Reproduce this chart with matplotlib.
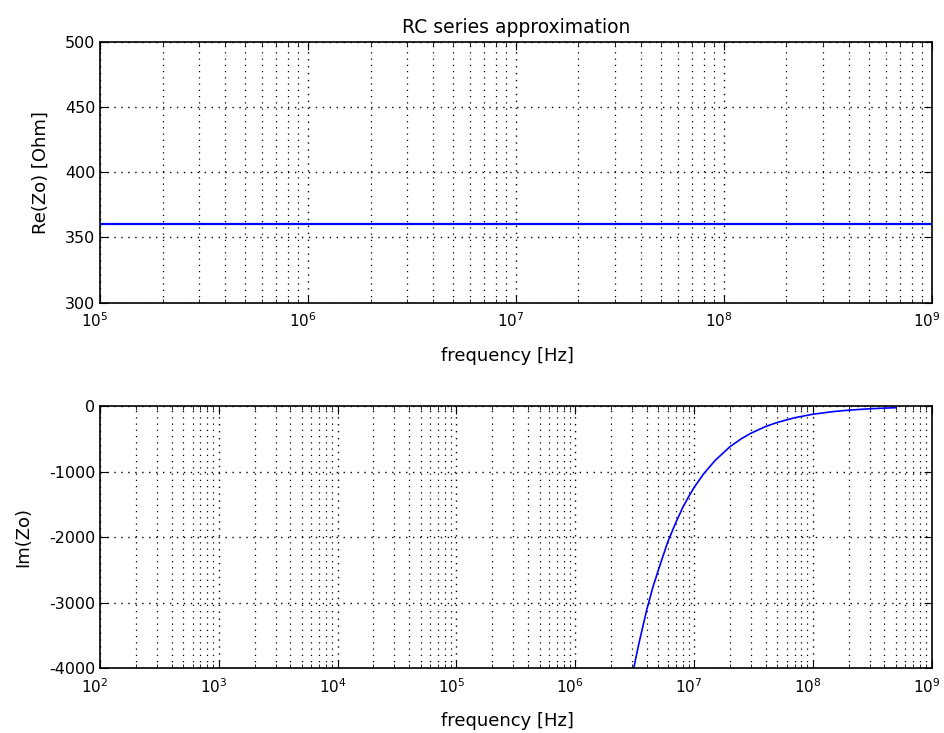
import matplotlib
matplotlib.use("Agg")
import matplotlib.pyplot as plt
import matplotlib.transforms as mtransforms
from matplotlib.ticker import LogLocator, NullFormatter, FixedLocator

plt.rcParams.update({
    "font.family": "DejaVu Sans",
    "font.size": 11.5,
    "axes.unicode_minus": False,
})

# Real part: flat resistance across the band
re_freq = [1e5, 1e9]
re_ohm = [360, 360]

# Imaginary part
im_freq = [3.1e6, 3.3e6, 3.5e6, 4e6, 4.5e6, 5e6, 6e6, 7e6, 8e6, 9e6, 1e7,
           1.2e7, 1.5e7, 2e7, 2.5e7, 3e7, 4e7, 5e7, 7e7, 1e8, 1.5e8, 2e8,
           3e8, 4e8, 5e8]
im_ohm = [-4000, -3760, -3550, -3100, -2760, -2500, -2070, -1780, -1550,
          -1380, -1240, -1035, -830, -620, -497, -415, -311, -250, -178,
          -124, -83, -62, -41, -31, -25]

top_xticks = [1e5, 1e6, 1e7, 1e8, 1e9]
bot_xticks = [1e2, 1e3, 1e4, 1e5, 1e6, 1e7, 1e8, 1e9]
top_yticks = [300, 350, 400, 450, 500]
bot_yticks = [-4000, -3000, -2000, -1000, 0]

fig = plt.figure(figsize=(9.44, 7.33), dpi=100)
ax1 = fig.add_axes([0.106, 0.587, 0.881, 0.356])
ax2 = fig.add_axes([0.106, 0.088, 0.881, 0.358])

dots = (0, (1, 4))
# MATLAB puts the tick labels a few pixels left of the tick
shift = mtransforms.ScaledTranslation(-0.05, 0, fig.dpi_scale_trans)


def style(ax, xticks, yticks):
    ax.set_xscale("log")
    ax.set_xlim(xticks[0], xticks[-1])
    ax.set_ylim(yticks[0], yticks[-1])
    ax.set_xticks(xticks)
    ax.yaxis.set_major_locator(FixedLocator(yticks))
    ax.xaxis.set_minor_locator(LogLocator(base=10, subs=range(2, 10), numticks=100))
    ax.xaxis.set_minor_formatter(NullFormatter())
    ax.grid(True, which="major", linestyle=dots, color="black", linewidth=1.0)
    ax.grid(True, which="minor", axis="x", linestyle=dots, color="black", linewidth=0.9)
    ax.tick_params(which="both", direction="in", top=True, right=True)
    ax.tick_params(which="major", length=6)
    ax.tick_params(which="minor", length=3)
    ax.tick_params(axis="x", which="major", pad=6, labelsize=11)
    for s in ax.spines.values():
        s.set_linewidth(1.2)
    for t in ax.xaxis.get_major_ticks():
        t.label1.set_transform(t.label1.get_transform() + shift)
    ax.set_xlabel("frequency [Hz]", fontsize=13)


ax1.plot(re_freq, re_ohm, color="#0000ff", linewidth=1.6)
style(ax1, top_xticks, top_yticks)
ax1.set_ylabel("Re(Zo) [Ohm]", fontsize=13)
ax1.set_title("RC series approximation", fontsize=13.5, pad=6)
ax1.xaxis.set_label_coords(0.49, -0.169)
ax1.yaxis.set_label_coords(-0.060, 0.5)

ax2.plot(im_freq, im_ohm, color="#0000ff", linewidth=1.2)
style(ax2, bot_xticks, bot_yticks)
ax2.set_ylabel("Im(Zo)", fontsize=13)
ax2.xaxis.set_label_coords(0.49, -0.164)
ax2.yaxis.set_label_coords(-0.082, 0.5)

fig.savefig("out.png", dpi=100)
